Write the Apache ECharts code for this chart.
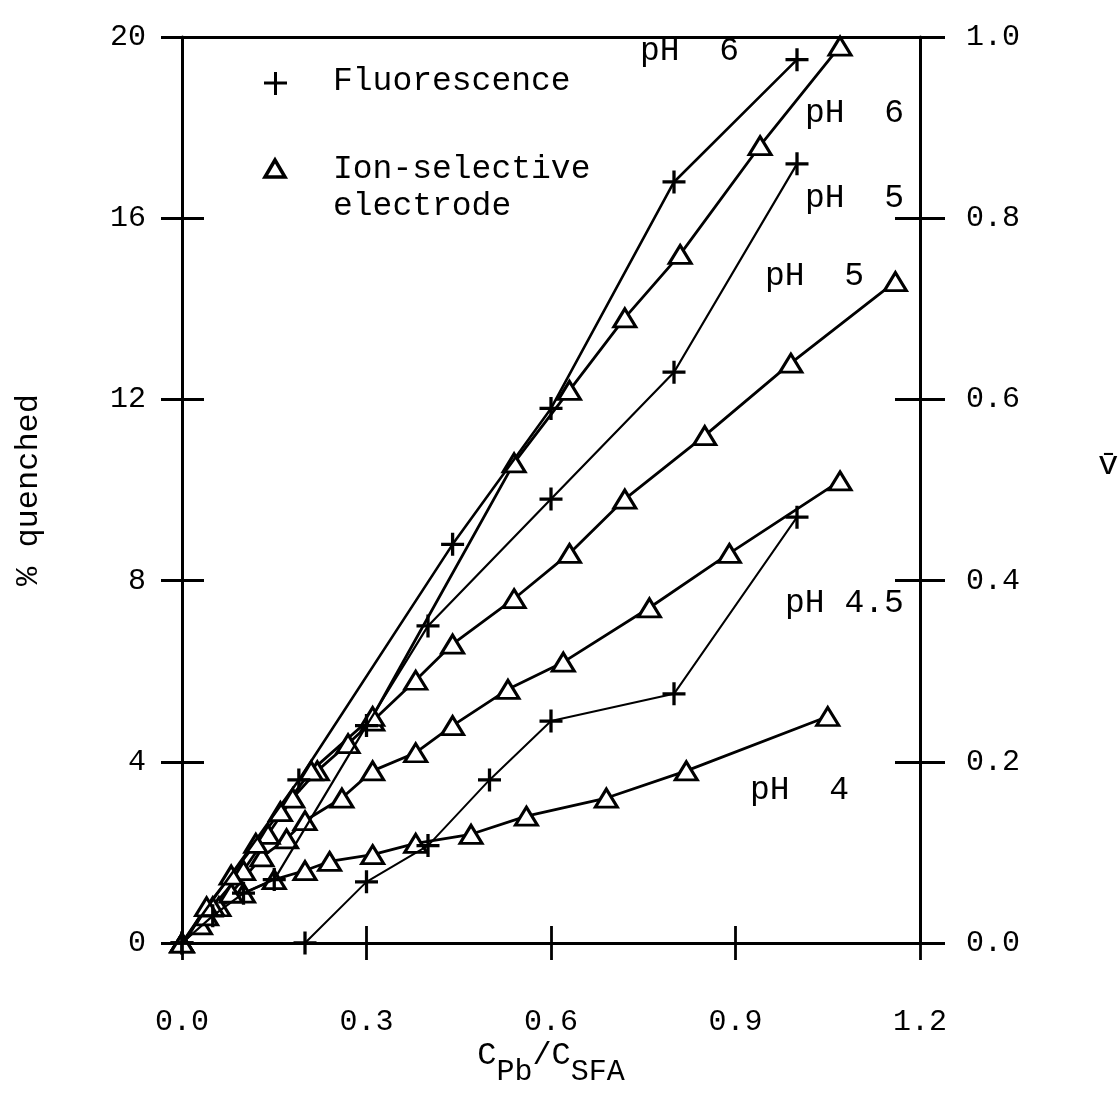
<!DOCTYPE html>
<html><head><meta charset="utf-8">
<script src="https://cdn.jsdelivr.net/npm/echarts@6/dist/echarts.min.js"></script>
<style>html,body{margin:0;padding:0;background:#fff}#c{width:1119px;height:1110px}</style>
</head><body><div id="c"></div>
<script>
// ---- tick definitions ----
const xTicks = [0, 0.3, 0.6, 0.9, 1.2];
const leftTicks = [0, 4, 8, 12, 16, 20];
const rightTicks = [0, 0.2, 0.4, 0.6, 0.8, 1.0];

// ---- Fluorescence (+) series, [CPb/CSFA, % quenched] ----
const fluorPH6 = [[0,0],[0.19,3.6],[0.44,8.8],[0.6,11.8],[0.8,16.8],[1.0,19.5]];
const fluorPH5 = [[0,0],[0.05,0.6],[0.1,1.1],[0.15,1.4],[0.3,4.8],[0.4,7.0],[0.6,9.8],[0.8,12.6],[1.0,17.2]];
const fluorPH45 = [[0.2,0],[0.3,1.35],[0.4,2.15],[0.5,3.6],[0.6,4.9],[0.8,5.5],[1.0,9.4]];

// ---- Ion-selective electrode (triangle) series ----
const isePH6 = [[0,0],[0.04,0.8],[0.08,1.5],[0.12,2.2],[0.16,2.9],[0.21,3.8],[0.31,5.0],[0.54,10.6],[0.63,12.2],[0.72,13.8],[0.81,15.2],[0.94,17.6],[1.07,19.8]];
const isePH5 = [[0,0],[0.05,0.8],[0.1,1.6],[0.14,2.4],[0.18,3.2],[0.22,3.8],[0.27,4.4],[0.31,4.9],[0.38,5.8],[0.44,6.6],[0.54,7.6],[0.63,8.6],[0.72,9.8],[0.85,11.2],[0.99,12.8],[1.16,14.6]];
const isePH45 = [[0,0],[0.04,0.6],[0.08,1.1],[0.13,1.9],[0.17,2.3],[0.2,2.7],[0.26,3.2],[0.31,3.8],[0.38,4.2],[0.44,4.8],[0.53,5.6],[0.62,6.2],[0.76,7.4],[0.89,8.6],[1.07,10.2]];
const isePH4 = [[0,0],[0.03,0.4],[0.06,0.8],[0.1,1.1],[0.15,1.4],[0.2,1.6],[0.24,1.8],[0.31,1.95],[0.38,2.2],[0.47,2.4],[0.56,2.8],[0.69,3.2],[0.82,3.8],[1.05,5.0]];

const legendNames = ['Fluorescence', 'Ion-selective\nelectrode'];

const FONT = 'Liberation Mono';
const PLUS = 'path://M9,0h3v9h9v3h-9v9h-3v-9h-9v-3h9z';

function fluor(data, w) {
  return { type:'line', data, xAxisIndex:0, yAxisIndex:0, symbol:PLUS, symbolSize:23,
    itemStyle:{color:'#000'}, lineStyle:{color:'#000', width:w}, animation:false, z:3 };
}
function ise(data) {
  return { type:'line', data, xAxisIndex:0, yAxisIndex:0, symbol:'triangle', symbolSize:[22,18],
    itemStyle:{color:'#fff', borderColor:'#000', borderWidth:3}, lineStyle:{color:'#000', width:2.8}, animation:false, z:2 };
}

const chart = echarts.init(document.getElementById('c'), null, {renderer:'canvas'});
const axisBase = { type:'value', splitLine:{show:false} };
const FS = 33;
const txt = (left, top, text) => ({type:'text', left, top, style:{text, font:FS + 'px "Liberation Mono"', fill:'#000'}});
const line = (w) => ({show:true, onZero:false, lineStyle:{color:'#000', width:w}});
chart.setOption({
  backgroundColor:'#fff',
  textStyle:{fontFamily:FONT, color:'#000'},
  grid:{left:182, right:199, top:37, bottom:167, containLabel:false, outerBoundsMode:'none'},
  xAxis:[
    Object.assign({}, axisBase, {position:'bottom', min:xTicks[0], max:xTicks[xTicks.length-1], interval:xTicks[1]-xTicks[0],
      axisLine:line(3),
      axisTick:{inside:false, length:17, lineStyle:{color:'#000', width:2.8}},
      axisLabel:{margin:64, fontSize:30, fontFamily:FONT, color:'#000', formatter:v=>v.toFixed(1)},
      name:'{c|C}{s|Pb}{c|/C}{s|SFA}', nameLocation:'middle', nameGap:97, nameMoveOverlap:false,
      nameTextStyle:{rich:{c:{fontSize:32, fontFamily:FONT, color:'#000', padding:[0,0,16,0]}, s:{fontSize:30, fontFamily:FONT, color:'#000', padding:[16,0,0,0]}}}}),
    Object.assign({}, axisBase, {position:'bottom', min:xTicks[0], max:xTicks[xTicks.length-1], interval:xTicks[1]-xTicks[0],
      axisLine:{show:false, onZero:false}, axisTick:{inside:true, length:17, lineStyle:{color:'#000', width:2.8}}, axisLabel:{show:false}}),
    Object.assign({}, axisBase, {position:'top', min:0, max:1.2,
      axisLine:line(3), axisTick:{show:false}, axisLabel:{show:false}})
  ],
  yAxis:[
    Object.assign({}, axisBase, {position:'left', min:leftTicks[0], max:leftTicks[leftTicks.length-1], interval:leftTicks[1]-leftTicks[0],
      axisLine:line(3),
      axisTick:{show:true, inside:false, length:21, lineStyle:{color:'#000', width:3}},
      axisLabel:{margin:36, fontSize:30, fontFamily:FONT, color:'#000'},
      name:'% quenched', nameLocation:'middle', nameGap:137, nameRotate:90, nameMoveOverlap:false,
      nameTextStyle:{fontSize:32, fontFamily:FONT, color:'#000'}}),
    Object.assign({}, axisBase, {position:'left', min:leftTicks[0], max:leftTicks[leftTicks.length-1], interval:leftTicks[1]-leftTicks[0],
      axisLine:{show:false, onZero:false}, axisTick:{show:true, inside:true, length:22, lineStyle:{color:'#000', width:3}}, axisLabel:{show:false}}),
    Object.assign({}, axisBase, {position:'right', min:rightTicks[0], max:rightTicks[rightTicks.length-1], interval:0.2,
      axisLine:line(3),
      axisTick:{show:true, inside:false, length:25, lineStyle:{color:'#000', width:3}},
      axisLabel:{margin:46, fontSize:30, fontFamily:FONT, color:'#000', formatter:v=>v.toFixed(1)},
      name:'v\u0304', nameLocation:'middle', nameGap:178, nameRotate:0,
      nameTextStyle:{fontSize:34, fontFamily:FONT, color:'#000', verticalAlign:'bottom', padding:[0,0,8,0]}}),
    Object.assign({}, axisBase, {position:'right', min:rightTicks[0], max:rightTicks[rightTicks.length-1], interval:0.2,
      axisLine:{show:false, onZero:false}, axisTick:{show:true, inside:true, length:25, lineStyle:{color:'#000', width:3}}, axisLabel:{show:false}})
  ],
  series:[
    ise(isePH4), ise(isePH45), ise(isePH5), ise(isePH6),
    fluor(fluorPH45, 2), fluor(fluorPH5, 2.2), fluor(fluorPH6, 2.6)
  ],
  graphic:[
    {type:'rect', shape:{x:264, y:81.5, width:23, height:3}, style:{fill:'#000'}},
    {type:'rect', shape:{x:274, y:72, width:3, height:23}, style:{fill:'#000'}},
    txt(333, 65, legendNames[0]),
    {type:'polygon', shape:{points:[[275,160],[265,177],[285,177]]}, style:{fill:'#fff', stroke:'#000', lineWidth:3.5}},
    {type:'text', left:333, top:151, style:{text:legendNames[1], font:FS + 'px "Liberation Mono"', fill:'#000', lineHeight:37}},
    txt(640, 35, 'pH  6'),
    txt(805, 97, 'pH  6'),
    txt(805, 182, 'pH  5'),
    txt(765, 260, 'pH  5'),
    txt(785, 587, 'pH 4.5'),
    txt(750, 774, 'pH  4')
  ]
});
</script></body></html>
